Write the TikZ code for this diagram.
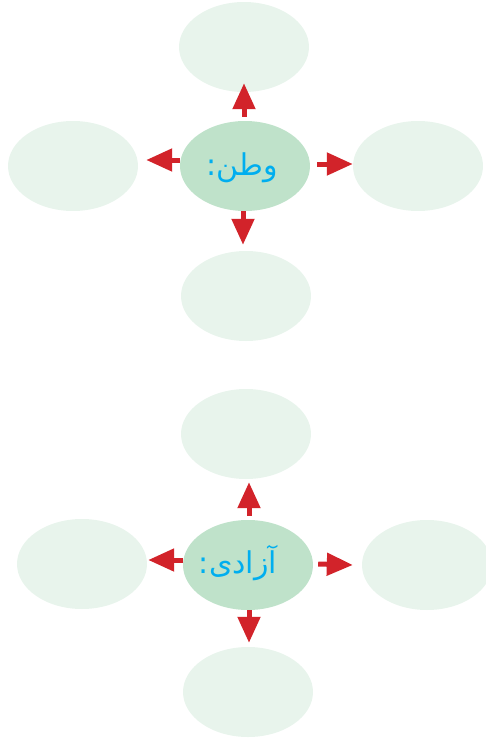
\documentclass[tikz,border=0pt]{standalone}
\usepackage{fontspec}
\newfontfamily\arabicfont[Script=Arabic]{DejaVu Sans}
\TeXXeTstate=1
\usetikzlibrary{shapes.geometric,arrows.meta}
\definecolor{inner}{HTML}{BFE2CA}
\definecolor{outer}{HTML}{E8F4EC}
\definecolor{arrred}{HTML}{D2232A}
\definecolor{txtblue}{HTML}{00AEEF}
\begin{document}
\begin{tikzpicture}[x=1pt,y=1pt,
  centerbox/.style={ellipse,fill=inner,minimum width=130pt,minimum height=90pt,inner sep=0pt},
  outerbox/.style={ellipse,fill=outer,minimum width=130pt,minimum height=90pt,inner sep=0pt},
  word/.style={inner sep=0pt,text=txtblue,font=\arabicfont\fontsize{30}{34}\selectfont},
  arr/.style={draw=arrred,line width=5pt,-{Triangle[length=26pt,width=22pt]},arrred}]
\useasboundingbox (0,0) rectangle (486,-739);
% group 1
\node[outerbox] (t1) at (244,-47) {};
\node[outerbox] (l1) at (73,-166) {};
\node[outerbox] (r1) at (418,-166) {};
\node[outerbox] (b1) at (246,-296) {};
\node[centerbox] (c1) at (245,-166) {};
\node[word] (w1) at (242,-168) {\beginR وطن:\endR};
\draw[arr] ([xshift=-1pt,yshift=4pt]c1.north) -- ([yshift=9pt]t1.south);
\draw[arr] ([yshift=6pt]c1.west) -- ([xshift=8pt,yshift=6pt]l1.east);
\draw[arr] ([xshift=7pt,yshift=2pt]c1.east) -- ([yshift=2pt]r1.west);
\draw[arr] ([xshift=-2pt]c1.south) -- ([xshift=-3pt,yshift=6pt]b1.north);
% group 2
\node[outerbox] (t2) at (246,-434) {};
\node[outerbox] (l2) at (82,-564) {};
\node[outerbox] (r2) at (427,-565) {};
\node[outerbox] (b2) at (248,-692) {};
\node[centerbox] (c2) at (248,-565) {};
\node[word] (w2) at (238,-563) {\beginR آزادی:\endR};
\draw[arr] ([xshift=1pt,yshift=4pt]c2.north) -- ([xshift=3pt,yshift=-3pt]t2.south);
\draw[arr] ([yshift=5pt]c2.west) -- ([xshift=1pt,yshift=4pt]l2.east);
\draw[arr] ([xshift=5pt,yshift=1pt]c2.east) -- ([xshift=-9pt]r2.west);
\draw[arr] ([xshift=1pt]c2.south) -- ([xshift=1pt,yshift=4pt]b2.north);
\end{tikzpicture}
\end{document}
